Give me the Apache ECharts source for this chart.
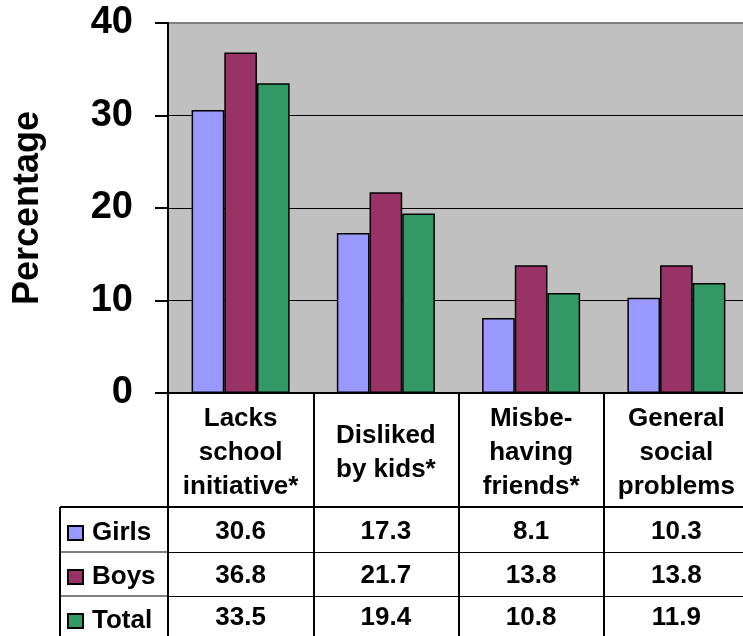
<!DOCTYPE html>
<html>
<head>
<meta charset="utf-8">
<title>Percentage by problem area</title>
<script src="https://cdn.jsdelivr.net/npm/echarts@6/dist/echarts.min.js"></script>
<style>
  html, body { margin: 0; padding: 0; background: #fff; }
  #chart { width: 743px; height: 636px; }
</style>
</head>
<body>
<div id="chart"></div>
<script>
// Problem areas (column headers of the data table)
const categories = [
  'Lacks\nschool\ninitiative*',
  'Disliked\nby kids*',
  'Misbe-\nhaving\nfriends*',
  'General\nsocial\nproblems'
];
const seriesNames = ['Girls', 'Boys', 'Total'];
const girls = [30.6, 17.3, 8.1, 10.3];
const boys  = [36.8, 21.7, 13.8, 13.8];
const total = [33.5, 19.4, 10.8, 11.9];
const yTicks = { min: 0, max: 40, interval: 10 };

const colors = ['#9999FF', '#993366', '#339966'];
const FONT = 'Arial, "Liberation Sans", Helvetica, sans-serif';

// layout of the plot and the table beneath it
const G = { left: 168, top: 23, width: 581, height: 370 };
const headerH = 114;         // height of the category header row
const rowH = [45, 44, 40];   // data rows
const legendColLeft = 60;
const tableFontSize = 26;

const rows = [girls, boys, total];
const rowTop = [];
{
  let y = headerH;
  for (let i = 0; i < rows.length; i++) { rowTop.push(y); y += rowH[i]; }
}
const tableH = rowTop[rows.length - 1] + rowH[rows.length - 1];

// one extra category axis per table row carries that row's values
const rowAxes = rows.map((vals, i) => ({
  type: 'category',
  gridIndex: 0,
  position: 'bottom',
  offset: rowTop[i],
  data: vals.map(v => v.toFixed(1)),
  axisLine: { show: true, lineStyle: { color: '#000', width: i === 0 ? 2 : 1 } },
  axisTick: { show: false },
  axisLabel: {
    interval: 0,
    margin: rowH[i] / 2 + 2,
    verticalAlign: 'middle',
    color: '#000',
    fontFamily: FONT,
    fontWeight: 'bold',
    fontSize: tableFontSize
  },
  splitLine: { show: false }
}));

const chart = echarts.init(document.getElementById('chart'), null, { renderer: 'canvas' });

const gridBottomY = G.top + G.height;
const borderLines = [];
// horizontal borders of the legend column
rows.forEach((_, i) => {
  const y = gridBottomY + rowTop[i];
  borderLines.push({
    type: 'line',
    shape: { x1: legendColLeft, y1: y, x2: G.left, y2: y },
    style: { stroke: '#000', lineWidth: i === 0 ? 2 : 1 }
  });
});
// left border of the legend column
borderLines.push({
  type: 'line',
  shape: { x1: legendColLeft, y1: gridBottomY + rowTop[0], x2: legendColLeft, y2: gridBottomY + tableH },
  style: { stroke: '#000', lineWidth: 2 }
});

chart.setOption({
  animation: false,
  backgroundColor: '#fff',
  color: colors,
  grid: {
    left: G.left, top: G.top, width: G.width, height: G.height,
    outerBoundsMode: 'none',
    containLabel: false,
    show: true,
    backgroundColor: '#C0C0C0',
    borderColor: '#808080',
    borderWidth: 2
  },
  legend: {
    orient: 'vertical',
    left: 67,
    top: gridBottomY + rowTop[0] + 11,
    padding: 0,
    itemGap: 14,
    itemWidth: 15,
    itemHeight: 14,
    icon: 'rect',
    selectedMode: false,
    itemStyle: { borderColor: '#000', borderWidth: 2 },
    textStyle: {
      color: '#000',
      fontFamily: FONT,
      fontWeight: 'bold',
      fontSize: tableFontSize,
      lineHeight: 30,
      padding: [0, 0, 0, 4]
    },
    data: seriesNames
  },
  xAxis: [
    {
      type: 'category',
      data: categories,
      boundaryGap: true,
      axisLine: { show: true, lineStyle: { color: '#000', width: 2 } },
      axisTick: {
        show: true,
        interval: 0,
        alignWithLabel: false,
        length: tableH,
        lineStyle: { color: '#000', width: 2 }
      },
      axisLabel: {
        interval: 0,
        margin: headerH / 2 + 3,
        verticalAlign: 'middle',
        align: 'center',
        color: '#000',
        fontFamily: FONT,
        fontWeight: 'bold',
        fontSize: tableFontSize,
        lineHeight: 34
      },
      splitLine: { show: false }
    }
  ].concat(rowAxes),
  yAxis: {
    type: 'value',
    min: yTicks.min,
    max: yTicks.max,
    interval: yTicks.interval,
    name: 'Percentage',
    nameLocation: 'middle',
    nameRotate: 90,
    nameGap: 122,
    nameTextStyle: {
      color: '#000',
      fontFamily: FONT,
      fontWeight: 'bold',
      fontSize: 36
    },
    axisLine: { show: true, lineStyle: { color: '#000', width: 2 } },
    axisTick: { show: true, length: 13, lineStyle: { color: '#000', width: 2 } },
    axisLabel: {
      margin: 35,
      color: '#000',
      fontFamily: FONT,
      fontWeight: 'bold',
      fontSize: 38
    },
    splitLine: {
      show: true,
      showMinLine: false,
      showMaxLine: false,
      lineStyle: { color: '#000', width: 1 }
    }
  },
  series: [girls, boys, total].map((vals, i) => ({
    name: seriesNames[i],
    type: 'bar',
    xAxisIndex: 0,
    data: vals,
    barGap: '0%',
    barCategoryGap: '32.5%',
    itemStyle: { color: colors[i], borderColor: '#000', borderWidth: 1.5 }
  })),
  graphic: borderLines
});
</script>
</body>
</html>
